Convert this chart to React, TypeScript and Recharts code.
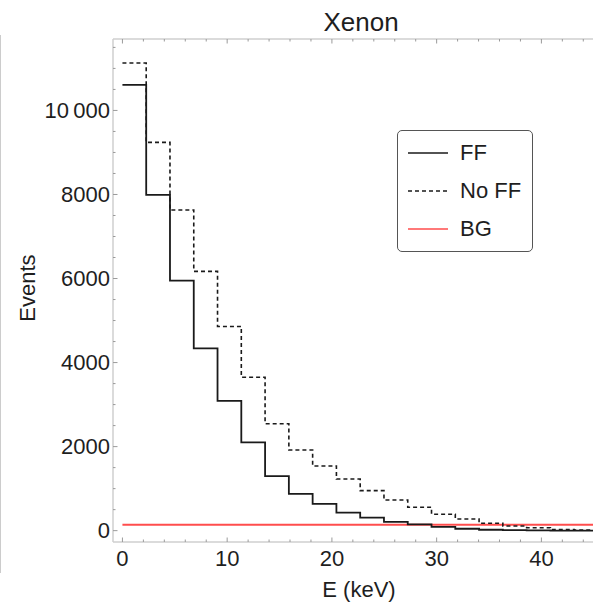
import React from 'react';
import { LineChart, Line, XAxis, YAxis, Legend } from 'recharts';

// Bin edges (keV) of the histogram
const binEdges = [0, 2.27, 4.54, 6.81, 9.08, 11.35, 13.62, 15.89, 18.16, 20.43, 22.7, 24.97, 27.24, 29.51, 31.78, 34.05, 36.32, 38.59, 40.86, 43.13, 45.4];
// Events per bin, with form factor
const ffCounts = [10610, 7990, 5950, 4340, 3090, 2100, 1300, 873, 635, 430, 310, 207, 150, 90, 45, 22, 12, 6, 3, 1];
// Events per bin, without form factor
const noFfCounts = [11130, 9240, 7630, 6170, 4860, 3650, 2545, 1920, 1540, 1230, 952, 731, 556, 390, 277, 175, 112, 70, 25, 12];
// Background level
const bgLevel = 140;

const xTicks = [0, 2, 4, 6, 8, 10, 12, 14, 16, 18, 20, 22, 24, 26, 28, 30, 32, 34, 36, 38, 40, 42, 44];
const xLabelTicks = [0, 10, 20, 30, 40];
const yTicks = [0, 500, 1000, 1500, 2000, 2500, 3000, 3500, 4000, 4500, 5000, 5500, 6000, 6500, 7000, 7500, 8000, 8500, 9000, 9500, 10000, 10500, 11000, 11500];
const yLabelTicks = [0, 2000, 4000, 6000, 8000, 10000];
const yTickLabels = ['0', '2000', '4000', '6000', '8000', '10\u2009000'];

const seriesNames = ['FF', 'No FF', 'BG'];

const data = binEdges.map((e, i) => ({
  E: e,
  ff: ffCounts[Math.min(i, ffCounts.length - 1)],
  noff: noFfCounts[Math.min(i, noFfCounts.length - 1)],
  bg: bgLevel,
}));

const FONT = "'Liberation Sans', Arial, Helvetica, sans-serif";
const FRAME = '#cfcfcf';
const TICK = '#9a9a9a';
const TEXT = '#1e1e1e';
const FS = 22;

const XTickBottom = (props: any) => {
  const { x, y, payload } = props;
  const v = payload.value;
  const major = xLabelTicks.includes(v);
  return (
    <g>
      <line x1={x} x2={x} y1={y} y2={y - (major ? 4.5 : 2.5)} stroke={TICK} strokeWidth={1} />
      {major && (
        <text x={x} y={y + 16} textAnchor="middle" dominantBaseline="central" fontFamily={FONT} fontSize={FS} fill={TEXT}>
          {v}
        </text>
      )}
    </g>
  );
};

const XTickTop = (props: any) => {
  const { x, y, payload } = props;
  const major = xLabelTicks.includes(payload.value);
  return <line x1={x} x2={x} y1={y} y2={y + (major ? 4.5 : 2.5)} stroke={TICK} strokeWidth={1} />;
};

const YTickLeft = (props: any) => {
  const { x, y, payload } = props;
  const v = payload.value;
  const idx = yLabelTicks.indexOf(v);
  const major = idx >= 0;
  return (
    <g>
      <line x1={x} x2={x + (major ? 4.5 : 2.5)} y1={y} y2={y} stroke={TICK} strokeWidth={1} />
      {major && (
        <text x={x - 3} y={y} textAnchor="end" dominantBaseline="central" fontFamily={FONT} fontSize={FS} fill={TEXT}>
          {yTickLabels[idx]}
        </text>
      )}
    </g>
  );
};

const LegendBox = () => {
  const styles = [
    { stroke: '#1a1a1a', dash: undefined },
    { stroke: '#1a1a1a', dash: '4 3' },
    { stroke: '#ff4d4d', dash: undefined },
  ];
  return (
    <div
      style={{
        width: 134,
        height: 120,
        border: '1px solid #555',
        borderRadius: 5,
        background: '#fff',
        boxSizing: 'content-box',
        position: 'relative',
      }}
    >
      {seriesNames.map((name, i) => (
        <div key={name} style={{ position: 'absolute', left: 0, top: 22 + i * 38 - 14, height: 28, display: 'flex', alignItems: 'center' }}>
          <svg width={60} height={28} style={{ display: 'block' }}>
            <line x1={10} x2={50} y1={14} y2={14} stroke={styles[i].stroke} strokeWidth={1.6} strokeDasharray={styles[i].dash} />
          </svg>
          <span style={{ fontFamily: FONT, fontSize: FS, color: TEXT, marginLeft: 2, whiteSpace: 'nowrap' }}>{name}</span>
        </div>
      ))}
    </div>
  );
};

export default function App() {
  return (
    <div style={{ position: 'absolute', left: 0, top: 0, width: 593, height: 605, overflow: 'hidden', background: '#fff' }}>
      <div style={{ position: 'absolute', left: 0, top: 35, width: 1, height: 538, background: '#cccccc' }} />
      <LineChart width={600} height={605} data={data} margin={{ top: 38, right: 1, bottom: 62, left: 0 }}>
        <XAxis
          xAxisId="top"
          orientation="top"
          dataKey="E"
          type="number"
          domain={[-0.9, 45.5]}
          allowDataOverflow
          ticks={xTicks}
          interval={0}
          height={1}
          tickSize={0}
          tickMargin={0}
          tickLine={false}
          axisLine={{ stroke: FRAME, strokeWidth: 1.5 }}
          tick={<XTickTop />}
        />
        <XAxis
          dataKey="E"
          type="number"
          domain={[-0.9, 45.5]}
          allowDataOverflow
          ticks={xTicks}
          interval={0}
          height={1}
          tickSize={0}
          tickMargin={0}
          tickLine={false}
          axisLine={{ stroke: FRAME, strokeWidth: 1.5 }}
          tick={<XTickBottom />}
        />
        <YAxis
          type="number"
          domain={[-270, 11700]}
          allowDataOverflow
          ticks={yTicks}
          interval={0}
          width={113}
          tickSize={0}
          tickMargin={0}
          tickLine={false}
          axisLine={{ stroke: FRAME, strokeWidth: 1.5 }}
          tick={<YTickLeft />}
        />
        <Legend
          layout="vertical"
          align="center"
          verticalAlign="middle"
          wrapperStyle={{ left: 397, top: 130, width: 136, height: 122 }}
          content={() => <LegendBox />}
        />
        <Line type="linear" dataKey="bg" stroke="#ff4d4d" strokeWidth={2} dot={false} activeDot={false} isAnimationActive={false} name="BG" />
        <Line type="stepAfter" dataKey="noff" stroke="#1a1a1a" strokeWidth={1.6} strokeDasharray="4 3" dot={false} activeDot={false} isAnimationActive={false} name="No FF" />
        <Line type="stepAfter" dataKey="ff" stroke="#1a1a1a" strokeWidth={1.8} dot={false} activeDot={false} isAnimationActive={false} name="FF" />
      </LineChart>
      <div style={{ position: 'absolute', left: 261, width: 200, top: 6, textAlign: 'center', fontFamily: FONT, fontSize: 26, color: TEXT, lineHeight: '32px' }}>
        Xenon
      </div>
      <div style={{ position: 'absolute', left: 259, width: 200, top: 575, textAlign: 'center', fontFamily: FONT, fontSize: FS, color: TEXT, lineHeight: '30px' }}>
        E (keV)
      </div>
      <div
        style={{
          position: 'absolute',
          left: 28 - 60,
          top: 288 - 15,
          width: 120,
          height: 30,
          lineHeight: '30px',
          textAlign: 'center',
          transform: 'rotate(-90deg)',
          fontFamily: FONT,
          fontSize: FS,
          color: TEXT,
        }}
      >
        Events
      </div>
    </div>
  );
}
